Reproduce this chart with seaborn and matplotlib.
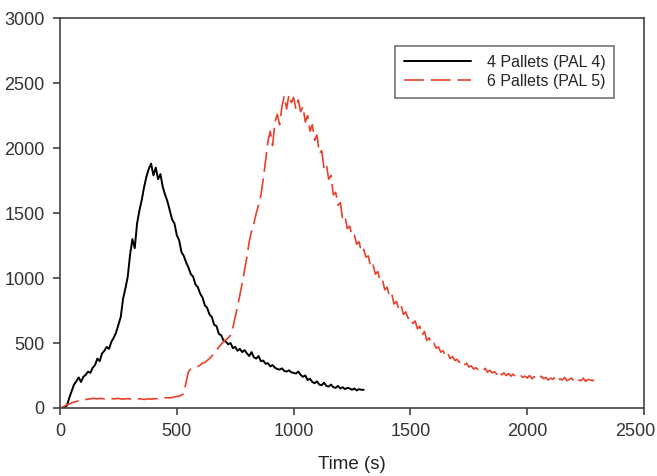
import numpy as np
import pandas as pd
import matplotlib
matplotlib.use("Agg")
import matplotlib.pyplot as plt
import matplotlib.transforms as mtransforms
import seaborn as sns

# readings, one every 10 s
pal4_time = list(range(0, 1310, 10))
pal4_hrr = [
    0, 0, 5, 20, 80, 130, 180, 205, 235, 200,
    240, 255, 280, 270, 310, 330, 380, 360, 420, 440,
    470, 455, 510, 540, 580, 640, 700, 840, 920, 1010,
    1180, 1300, 1230, 1420, 1520, 1600, 1700, 1780, 1840, 1880,
    1790, 1850, 1760, 1800, 1700, 1640, 1590, 1520, 1450, 1420,
    1330, 1290, 1200, 1170, 1120, 1080, 1030, 1010, 950, 930,
    880, 850, 790, 770, 720, 700, 640, 630, 570, 560,
    520, 510, 490, 500, 460, 470, 440, 455, 430, 445,
    420, 400, 430, 390, 380, 400, 360, 365, 340, 345,
    320, 330, 310, 300, 295, 305, 285, 280, 290, 275,
    270, 265, 280, 255, 240, 250, 215, 225, 200, 190,
    205, 180, 175, 195, 170, 165, 180, 160, 155, 170,
    150, 160, 145, 155, 150, 140, 150, 135, 145, 140,
    140,
]

pal5_time = list(range(0, 2310, 10))
pal5_hrr = [
    0, 5, 15, 25, 30, 40, 45, 50, 55, 60,
    62, 65, 68, 70, 75, 72, 70, 74, 72, 70,
    72, 75, 73, 70, 72, 74, 70, 68, 70, 72,
    70, 68, 70, 72, 70, 68, 66, 68, 70, 68,
    70, 72, 70, 72, 75, 78, 80, 78, 80, 85,
    88, 92, 100, 110, 200, 280, 300, 305, 315, 320,
    330, 345, 350, 365, 380, 400, 420, 445, 470, 490,
    510, 525, 540, 560, 620, 700, 780, 870, 960, 1060,
    1160, 1280, 1360, 1420, 1500, 1560, 1640, 1760, 1900, 2050,
    2130, 2020, 2200, 2260, 2180, 2320, 2400, 2300, 2410, 2350,
    2390, 2300, 2370, 2280, 2320, 2200, 2250, 2130, 2180, 2060,
    2100, 1960, 1980, 1850, 1880, 1760, 1790, 1640, 1660, 1560,
    1580, 1450, 1470, 1380, 1400, 1320, 1330, 1260, 1280, 1200,
    1220, 1160, 1170, 1080, 1100, 1030, 1050, 980, 990, 910,
    930, 860, 880, 800, 820, 760, 790, 720, 740, 690,
    700, 650, 670, 610, 630, 560, 590, 520, 540, 490,
    500, 460, 470, 430, 440, 400, 420, 380, 395, 365,
    375, 350, 360, 330, 345, 315, 325, 300, 310, 295,
    300, 285, 305, 275, 290, 270, 280, 260, 285, 255,
    270, 250, 265, 245, 260, 240, 250, 255, 235, 245,
    230, 250, 225, 240, 230, 220, 245, 225, 235, 215,
    230, 220, 240, 210, 225, 215, 235, 210, 220, 230,
    205, 225, 215, 210, 230, 205, 220, 215, 210, 220,
    210,
]

sns.set_style("ticks")
plt.rcParams["font.family"] = ["Liberation Sans", "DejaVu Sans"]

fig = plt.figure(figsize=(6.57, 4.76), dpi=100)
ax = fig.add_axes([0.0913, 0.1429, 0.889, 0.819])

sns.lineplot(x=pal4_time, y=pal4_hrr, ax=ax, color="black", linewidth=1.4,
             label="4 Pallets (PAL 4)", sort=False)
sns.lineplot(x=pal5_time, y=pal5_hrr, ax=ax, color="#e8402a", linewidth=1.2,
             label="6 Pallets (PAL 5)", sort=False)
ax.lines[1].set_dashes([12, 4])

ax.set_xlim(0, 2500)
ax.set_ylim(0, 3000)
ax.set_xticks([0, 500, 1000, 1500, 2000, 2500])
ax.set_yticks([0, 500, 1000, 1500, 2000, 2500, 3000])
ax.set_xlabel("Time (s)", fontsize=13.5, color="#222222", labelpad=11)
ax.set_ylabel("")
ax.tick_params(axis="both", direction="out", length=5, width=1.1,
               labelsize=13, colors="#333333", pad=6)
for s in ax.spines.values():
    s.set_color("#444444")
    s.set_linewidth(1.2)

# nudge the last x label so it stays inside the figure, as in the reference
last = ax.get_xticklabels()[-1]
last.set_transform(last.get_transform() +
                   mtransforms.ScaledTranslation(-9 / 100, 0, fig.dpi_scale_trans))

leg = ax.legend(loc="upper right", bbox_to_anchor=(0.949, 0.928),
                borderaxespad=0, fontsize=11.5, handlelength=4.2,
                fancybox=False, frameon=True, borderpad=0.55,
                labelspacing=0.25, handletextpad=1.0)
leg.get_frame().set_edgecolor("#444444")
leg.get_frame().set_linewidth(1.1)

fig.savefig("out.png", dpi=100)
